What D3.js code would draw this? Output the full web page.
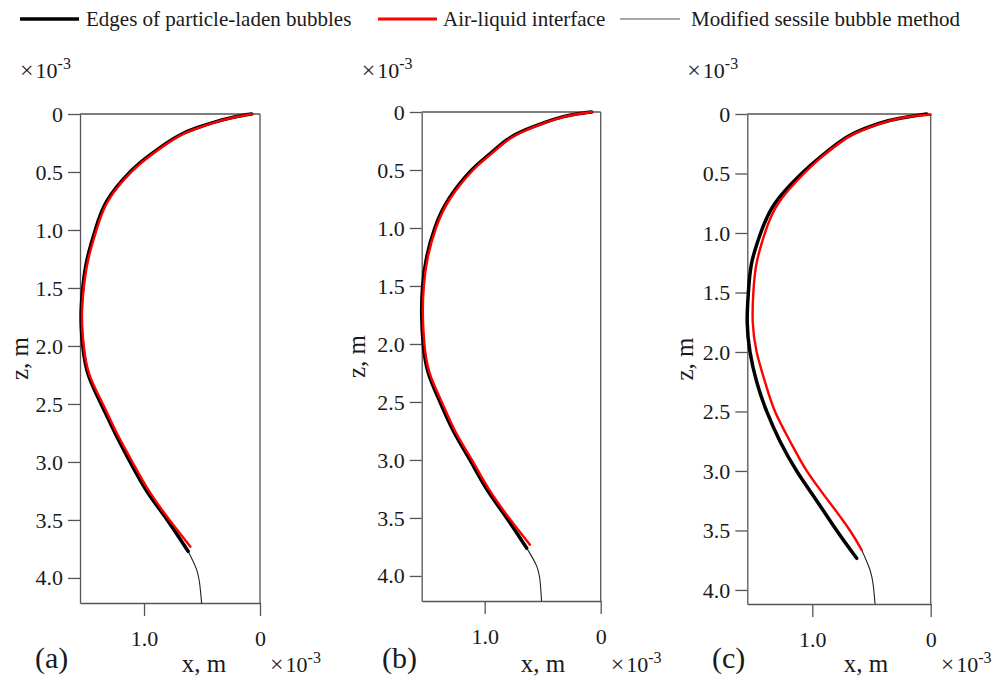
<!DOCTYPE html>
<html>
<head>
<meta charset="utf-8">
<script src="https://cdn.jsdelivr.net/npm/d3@7/dist/d3.min.js"></script>
<style>
  html, body { margin: 0; padding: 0; background: #fff; }
  svg, svg text { font-family: "Liberation Serif", "Times New Roman", serif; }
</style>
</head>
<body>
<script>
// ---------------- DATA (x in 1e-3 m, z in 1e-3 m) ----------------
const seriesNames = ["Edges of particle-laden bubbles", "Air-liquid interface", "Modified sessile bubble method"];
const panelLabels = ["(a)", "(b)", "(c)"];
const zTicks = [0, 0.5, 1.0, 1.5, 2.0, 2.5, 3.0, 3.5, 4.0];
const zTickLabels = ["0", "0.5", "1.0", "1.5", "2.0", "2.5", "3.0", "3.5", "4.0"];
const xTicks = [1.0, 0];
const xTickLabels = ["1.0", "0"];

// panel (a)  [x, z]
const edgesA = [[0.072,0],[0.23,0.028],[0.40,0.072],[0.517,0.11],[0.66,0.166],[0.80,0.247],[0.948,0.353],[1.12,0.5],[1.32,0.75],[1.42,1.0],[1.49,1.25],[1.528,1.5],[1.543,1.75],[1.528,2.0],[1.48,2.25],[1.37,2.5],[1.25,2.75],[1.12,3.0],[0.977,3.25],[0.80,3.5],[0.62,3.77]];
const interfaceA = [[0.062,0],[0.22,0.028],[0.39,0.072],[0.507,0.11],[0.65,0.166],[0.79,0.247],[0.938,0.353],[1.11,0.5],[1.31,0.75],[1.41,1.0],[1.48,1.25],[1.52,1.5],[1.535,1.75],[1.52,2.0],[1.47,2.25],[1.355,2.5],[1.235,2.75],[1.10,3.0],[0.957,3.25],[0.78,3.5],[0.60,3.73]];
const sessileA = [[0.62,3.77],[0.546,3.93],[0.517,4.075],[0.503,4.22]];

// panel (b)
const edgesB = [[0.078,0],[0.207,0.017],[0.322,0.04],[0.48,0.089],[0.65,0.155],[0.81,0.241],[0.965,0.37],[1.112,0.5],[1.31,0.75],[1.43,1.0],[1.50,1.25],[1.535,1.5],[1.543,1.75],[1.53,2.0],[1.486,2.25],[1.385,2.5],[1.27,2.75],[1.127,3.0],[0.983,3.25],[0.81,3.5],[0.638,3.76]];
const interfaceB = [[0.07,0],[0.197,0.017],[0.312,0.04],[0.47,0.089],[0.64,0.155],[0.80,0.241],[0.955,0.37],[1.10,0.5],[1.30,0.75],[1.42,1.0],[1.49,1.25],[1.525,1.5],[1.533,1.75],[1.52,2.0],[1.475,2.25],[1.37,2.5],[1.255,2.75],[1.11,3.0],[0.965,3.25],[0.79,3.5],[0.61,3.73]];
const sessileB = [[0.638,3.76],[0.55,3.92],[0.52,4.07],[0.51,4.216]];

// panel (c)
const edgesC = [[0.034,0],[0.26,0.036],[0.43,0.078],[0.65,0.163],[0.79,0.25],[0.93,0.36],[1.09,0.5],[1.315,0.75],[1.436,1.0],[1.512,1.25],[1.54,1.5],[1.55,1.75],[1.526,2.0],[1.47,2.25],[1.385,2.5],[1.273,2.75],[1.132,3.0],[0.963,3.25],[0.794,3.5],[0.625,3.734]];
const interfaceC = [[0.0,0.006],[0.12,0.014],[0.25,0.034],[0.42,0.078],[0.64,0.163],[0.78,0.25],[0.92,0.36],[1.07,0.5],[1.287,0.75],[1.40,1.0],[1.47,1.25],[1.498,1.5],[1.503,1.75],[1.47,2.0],[1.40,2.25],[1.315,2.5],[1.188,2.75],[1.047,3.0],[0.865,3.25],[0.682,3.5],[0.583,3.664]];
const sessileC = [[0.583,3.664],[0.513,3.83],[0.484,3.97],[0.47,4.118]];

// ---------------- LAYOUT ----------------
const W = 996, H = 676;
const panels = [
  { label: panelLabels[0], edges: edgesA, iface: interfaceA, sessile: sessileA,
    left: 80, right: 260, top: 114, bottom: 603, xMax: 1.552, zMax: 4.216,
    labelX: 35, xTitleX: 204, zTitleX: 20 },
  { label: panelLabels[1], edges: edgesB, iface: interfaceB, sessile: sessileB,
    left: 421.7, right: 600.7, top: 112, bottom: 601, xMax: 1.543, zMax: 4.216,
    labelX: 382, xTitleX: 543, zTitleX: 357 },
  { label: panelLabels[2], edges: edgesC, iface: interfaceC, sessile: sessileC,
    left: 747.3, right: 930.7, top: 114, bottom: 604, xMax: 1.549, zMax: 4.118,
    labelX: 712, xTitleX: 866, zTitleX: 685 }
];

const FONT = '"Liberation Serif", "Times New Roman", serif';
const axisColor = "#555";
const textColor = "#1a1a1a";

const svg = d3.select("body").append("svg").attr("width", W).attr("height", H)
  .style("font-family", FONT);
svg.append("rect").attr("width", W).attr("height", H).attr("fill", "#fff");

// ---------------- LEGEND ----------------
const legendItems = [
  { name: seriesNames[0], color: "#000", width: 3.5, x1: 20, x2: 79, tx: 86 },
  { name: seriesNames[1], color: "#f00", width: 3, x1: 378, x2: 437, tx: 443 },
  { name: seriesNames[2], color: "#555", width: 1.2, x1: 620, x2: 680, tx: 691 }
];
const lg = svg.append("g");
legendItems.forEach(it => {
  lg.append("line").attr("x1", it.x1).attr("x2", it.x2).attr("y1", 19).attr("y2", 19)
    .attr("stroke", it.color).attr("stroke-width", it.width);
  lg.append("text").attr("x", it.tx).attr("y", 26).attr("font-size", 21).attr("fill", textColor)
    .style("font-family", FONT).text(it.name);
});

function exponentLabel(g, x, y) {
  const t = g.append("text").attr("x", x).attr("y", y).attr("font-size", 22).attr("fill", textColor)
    .style("font-family", FONT);
  t.append("tspan").attr("font-size", 24).text("\u00d7");
  t.append("tspan").attr("dx", 2).text("10");
  t.append("tspan").attr("dy", -9).attr("font-size", 16).text("-3");
}

// ---------------- PANELS ----------------
panels.forEach(p => {
  const x = d3.scaleLinear().domain([p.xMax, 0]).range([p.left, p.right]);
  const z = d3.scaleLinear().domain([0, p.zMax]).range([p.top, p.bottom]);
  const g = svg.append("g");

  const yAxis = d3.axisLeft(z).tickValues(zTicks).tickFormat((d, i) => zTickLabels[i])
    .tickSize(12).tickPadding(5).tickSizeOuter(0);
  const xAxis = d3.axisBottom(x).tickValues(xTicks).tickFormat((d, i) => xTickLabels[i])
    .tickSize(13).tickPadding(14).tickSizeOuter(0);

  const ya = g.append("g").attr("transform", `translate(${p.left},0)`).call(yAxis);
  const xa = g.append("g").attr("transform", `translate(0,${p.bottom})`).call(xAxis);
  [ya, xa].forEach(a => {
    a.attr("font-family", null).attr("font-size", null);
    a.selectAll("path, line").attr("stroke", axisColor).attr("stroke-width", 1.3);
    a.selectAll("text").style("font-family", FONT).style("font-size", "22px").attr("fill", textColor);
  });
  // box top & right
  g.append("line").attr("x1", p.left).attr("x2", p.right).attr("y1", p.top).attr("y2", p.top)
    .attr("stroke", axisColor).attr("stroke-width", 1.3);
  g.append("line").attr("x1", p.right).attr("x2", p.right).attr("y1", p.top).attr("y2", p.bottom)
    .attr("stroke", axisColor).attr("stroke-width", 1.3);

  const line = d3.line().x(d => x(d[0])).y(d => z(d[1])).curve(d3.curveNatural);
  g.append("path").datum(p.sessile).attr("d", line).attr("fill", "none")
    .attr("stroke", "#222").attr("stroke-width", 1.1);
  g.append("path").datum(p.edges).attr("d", line).attr("fill", "none")
    .attr("stroke", "#000").attr("stroke-width", 3.5).attr("stroke-linecap", "round");
  g.append("path").datum(p.iface).attr("d", line).attr("fill", "none")
    .attr("stroke", "#f00").attr("stroke-width", 2.4).attr("stroke-linecap", "round");

  // exponents
  exponentLabel(g, p.left - 60, 78);
  exponentLabel(g, p.right + 10, 672);

  // axis titles
  g.append("text").attr("x", p.xTitleX).attr("y", 672).attr("text-anchor", "middle")
    .attr("font-size", 25).attr("fill", textColor).style("font-family", FONT).text("x, m");
  g.append("text").attr("transform", `translate(${p.zTitleX + 8},${(p.top + p.bottom) / 2}) rotate(-90)`)
    .attr("text-anchor", "middle").attr("font-size", 25).attr("fill", textColor)
    .style("font-family", FONT).text("z, m");

  // panel label
  g.append("text").attr("x", p.labelX).attr("y", 668).attr("font-size", 30).attr("fill", textColor)
    .style("font-family", FONT).text(p.label);
});
</script>
</body>
</html>
